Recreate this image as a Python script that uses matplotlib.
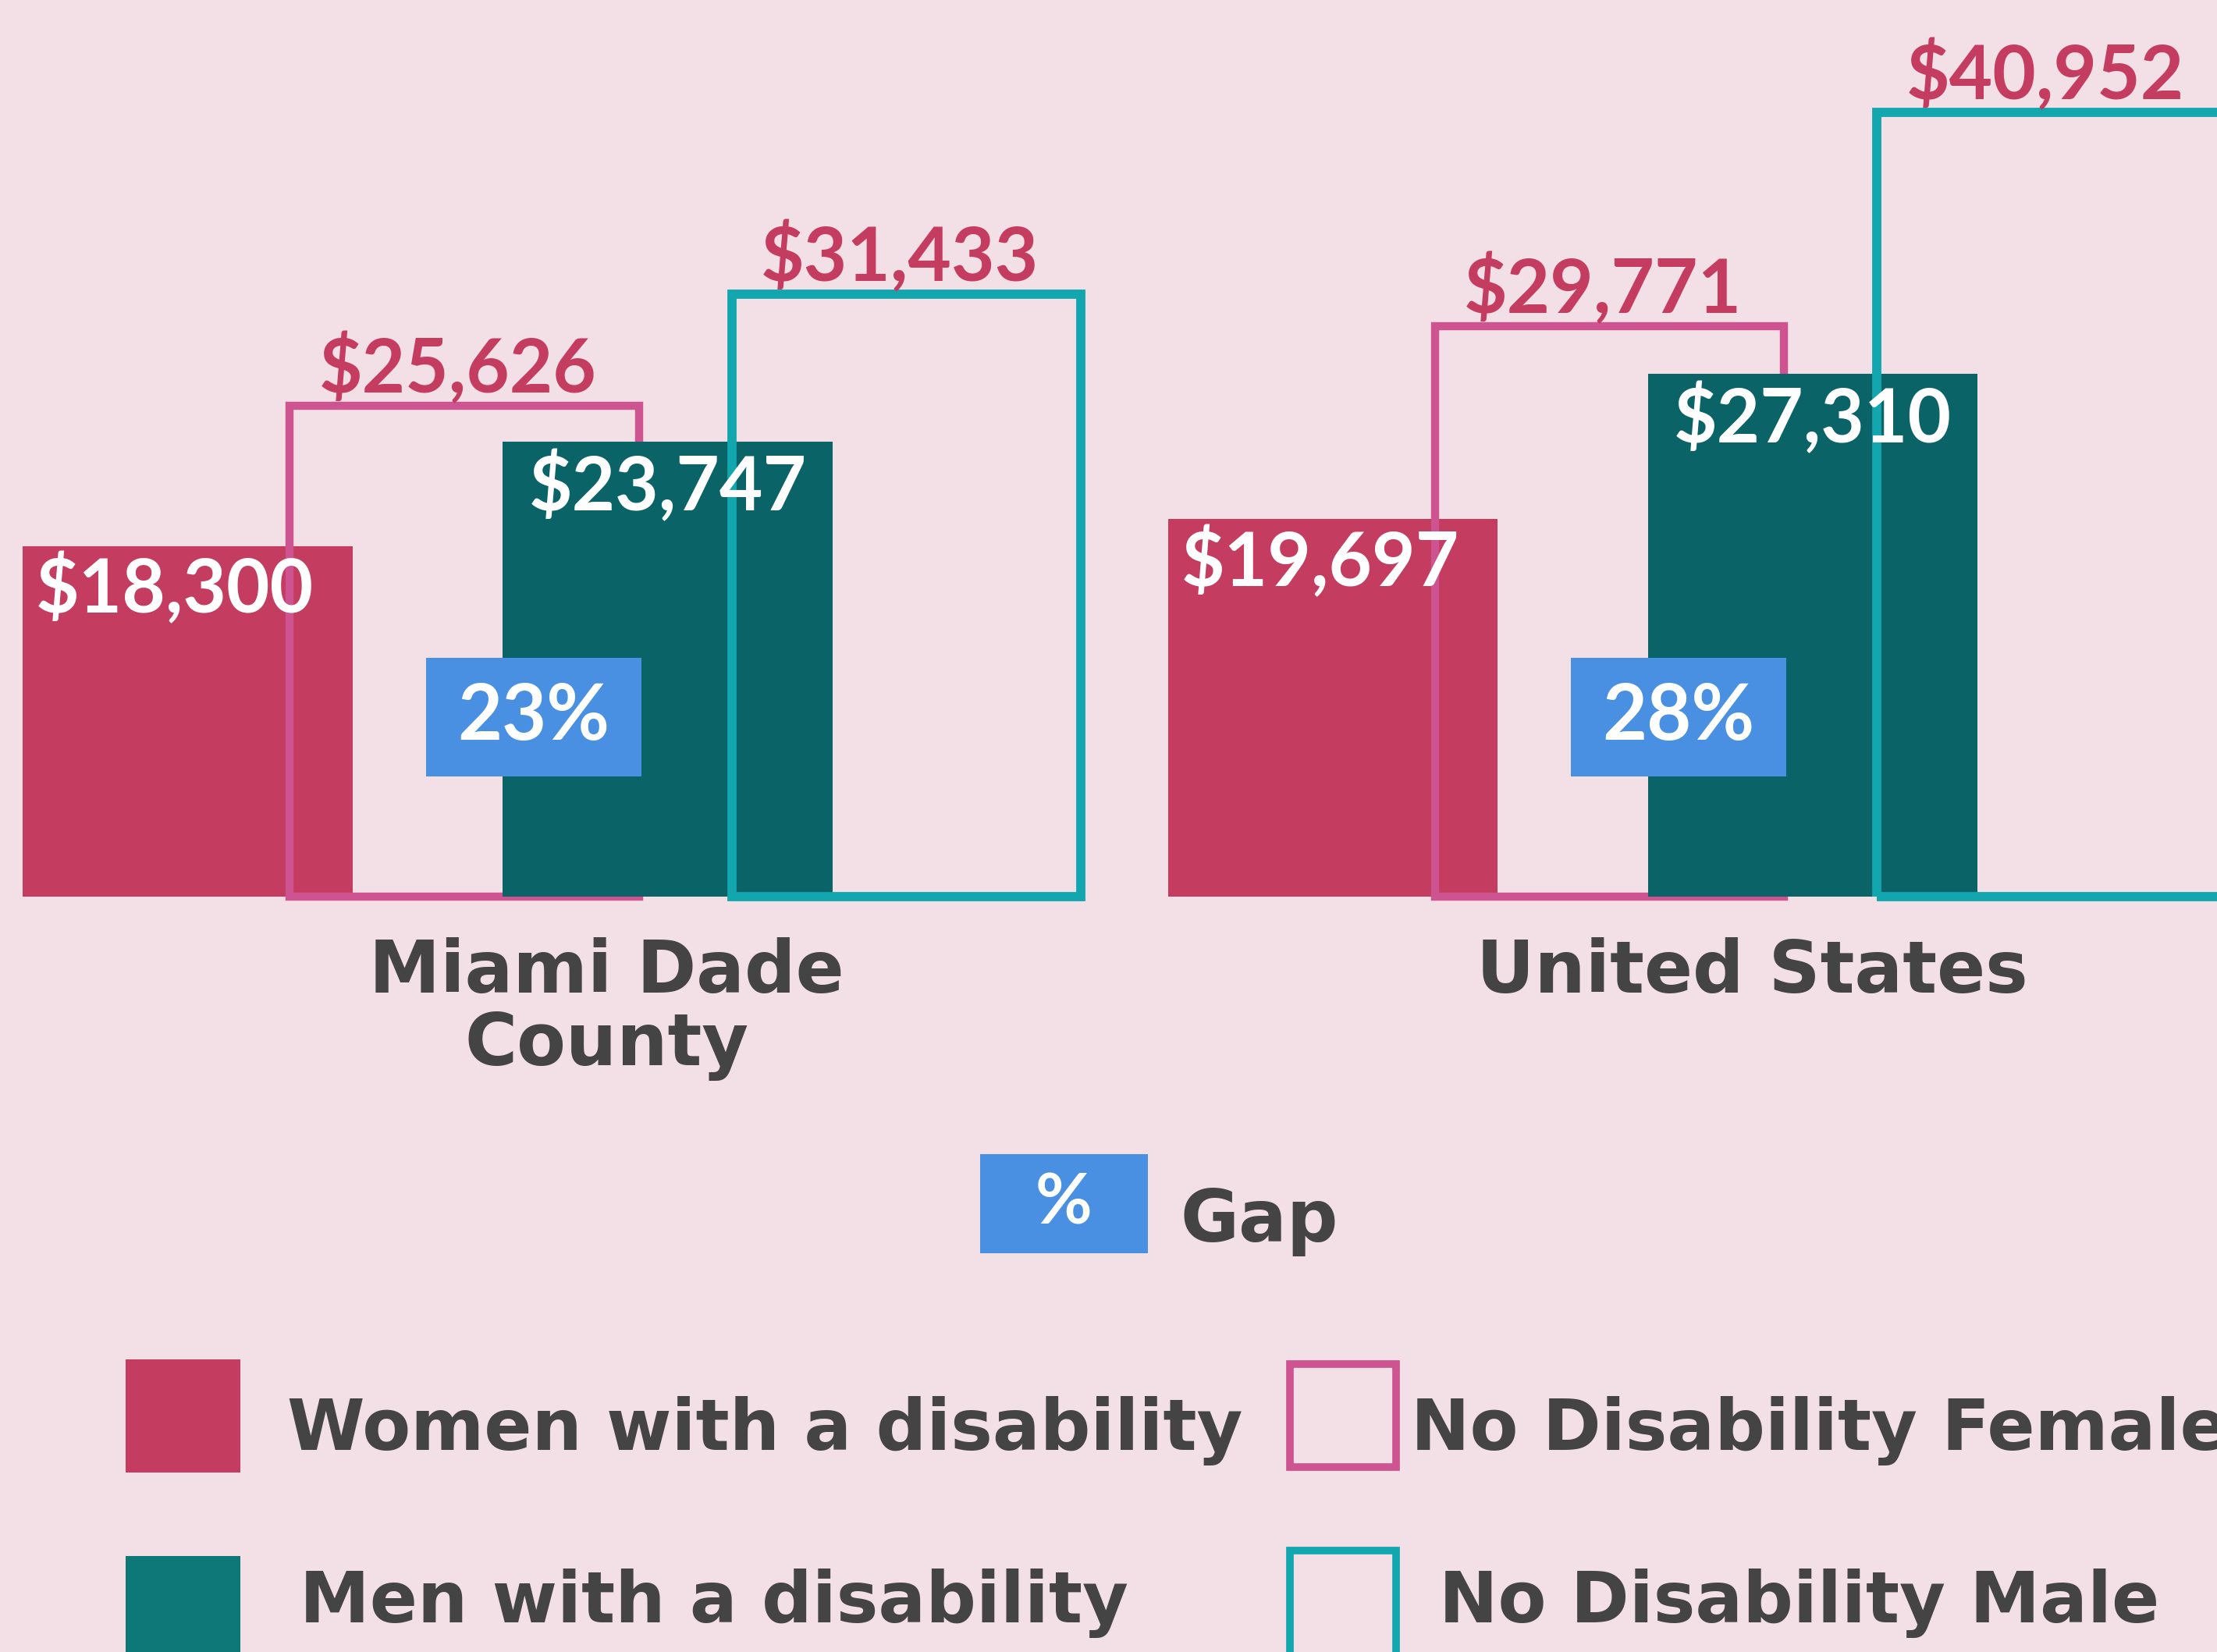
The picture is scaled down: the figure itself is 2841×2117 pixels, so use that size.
import numpy as np
import matplotlib
matplotlib.use('Agg')
import matplotlib.pyplot as plt
from matplotlib.patches import Rectangle


# median earnings
groups = ['Miami Dade\nCounty', 'United States']
women_disability = [18300, 19697]
men_disability = [23747, 27310]
no_disability_female = [25626, 29771]
no_disability_male = [31433, 40952]
gap_labels = ['23%', '28%']

legend_labels = ['Women with a disability', 'No Disability Female',
                 'Men with a disability', 'No Disability Male']

# colours
bg = '#F3E0E6'
red = '#C43C5F'
pink = '#CD5490'
dark_teal = '#0A6367'
legend_teal = '#0E7878'
teal = '#12A6AE'
blue = '#4A90E2'
grey = '#444444'

num_font = 'Lato'
word_font = 'DejaVu Sans'

fig = plt.figure(figsize=(28.41, 21.17), dpi=100)
fig.patch.set_facecolor(bg)

# bars share one baseline, axes spans the top part of the picture
ax = fig.add_axes([0, 0.4572, 1, 0.5428])
ax.set_facecolor('none')
ax.axis('off')
ax.set_xlim(-0.02, 1.916)
ax.set_ylim(0, 46800)

x = np.arange(len(groups))
fill_w = 0.288
line_w = 0.305

b1 = ax.bar(x, women_disability, width=fill_w, align='edge', color=red, zorder=1)
b2 = ax.bar(x + 0.233, no_disability_female, width=line_w, align='edge',
            facecolor='none', edgecolor=pink, linewidth=7.5, zorder=2)
b3 = ax.bar(x + 0.419, men_disability, width=fill_w, align='edge', color=dark_teal, zorder=3)
b4 = ax.bar(x + 0.619, no_disability_male, width=line_w, align='edge',
            facecolor='none', edgecolor=teal, linewidth=8.5, zorder=4)

for bars in [b1, b2, b3, b4]:
    for p in bars:
        p.set_clip_on(False)
        p.set_joinstyle('miter')

lab = dict(fontsize=69, family=num_font, weight='bold', zorder=10)

for i in range(len(groups)):
    # values inside the filled bars
    ax.annotate(f'${women_disability[i]:,}', xy=(x[i], women_disability[i]),
                xytext=(12, -6), textcoords='offset points', ha='left', va='top',
                color='white', **lab)
    ax.annotate(f'${men_disability[i]:,}', xy=(x[i] + 0.419, men_disability[i]),
                xytext=(24, -8), textcoords='offset points', ha='left', va='top',
                color='white', **lab)

    # values above the outline bars
    ax.annotate(f'${no_disability_female[i]:,}', xy=(x[i] + 0.233 + line_w / 2, no_disability_female[i]),
                xytext=(-6, 12), textcoords='offset points', ha='center', va='baseline',
                color=red, **lab)
    ax.annotate(f'${no_disability_male[i]:,}', xy=(x[i] + 0.619 + line_w / 2, no_disability_male[i]),
                xytext=(-6, 12), textcoords='offset points', ha='center', va='baseline',
                color=red, **lab)

    # gap box
    ax.add_patch(Rectangle((x[i] + 0.352, 6270), 0.188, 6190, facecolor=blue,
                           edgecolor='none', zorder=6))
    ax.text(x[i] + 0.352 + 0.094, 6270 + 3095, gap_labels[i], ha='center', va='center',
            color='white', fontsize=71, family=num_font, weight='bold', zorder=10)

    # group name under the bars
    ax.text(x[i] + 0.51, -0.045, groups[i], transform=ax.get_xaxis_transform(),
            ha='center', va='top', color=grey, fontsize=66, family=word_font,
            weight='bold', linespacing=1.05)


# legend, in figure pixels of the 1568 x 1168 layout
def fx(px):
    return px / 1568


def fy(py):
    return 1 - py / 1168


fig.add_artist(Rectangle((fx(693), fy(886)), fx(812) - fx(693), 70 / 1168,
                         transform=fig.transFigure, facecolor=blue, edgecolor='none'))
fig.text(fx(752), fy(851), '%', ha='center', va='center', color='white',
         fontsize=64, family=num_font, weight='bold')
fig.text(fx(835), fy(878), 'Gap', ha='left', va='baseline', color=grey,
         fontsize=66, family=word_font, weight='bold')

# filled swatches
fig.add_artist(Rectangle((fx(89), fy(1041)), fx(170) - fx(89), 80 / 1168,
                         transform=fig.transFigure, facecolor=red, edgecolor='none'))
fig.add_artist(Rectangle((fx(89), fy(1180)), fx(170) - fx(89), 80 / 1168,
                         transform=fig.transFigure, facecolor=legend_teal, edgecolor='none'))
# outline swatches
fig.add_artist(Rectangle((fx(912.5), fy(1037.5)), fx(987.5) - fx(912.5), 73 / 1168,
                         transform=fig.transFigure, facecolor='none', edgecolor=pink,
                         linewidth=7, joinstyle='miter'))
fig.add_artist(Rectangle((fx(912.5), fy(1180)), fx(987.5) - fx(912.5), 83.5 / 1168,
                         transform=fig.transFigure, facecolor='none', edgecolor=teal,
                         linewidth=7, joinstyle='miter'))

leg = dict(ha='left', va='baseline', color=grey, fontsize=65, family=word_font, weight='bold')
fig.text(fx(203), fy(1025), legend_labels[0], **leg)
fig.text(fx(998), fy(1025), legend_labels[1], **leg)
fig.text(fx(212), fy(1147), legend_labels[2], **leg)
fig.text(fx(1018), fy(1147), legend_labels[3], **leg)

fig.savefig('out.png', dpi=100, facecolor=bg)
